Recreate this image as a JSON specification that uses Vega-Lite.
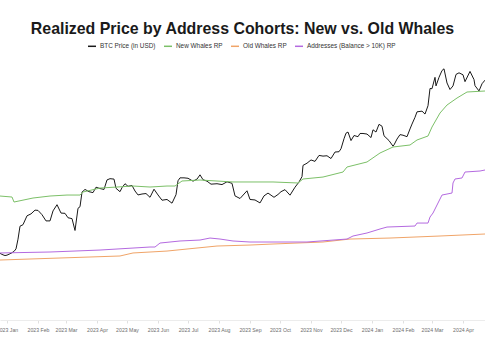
{
  "$schema": "https://vega.github.io/schema/vega-lite/v6.json",
  "width": 485,
  "height": 260,
  "autosize": "none",
  "padding": {"top": 60, "left": 0, "right": 0, "bottom": 40},
  "background": "white",
  "config": {"view": {"stroke": null}},
  "title": {"text": "Realized Price by Address Cohorts: New vs. Old Whales", "anchor": "middle", "fontSize": 15.9, "font": "Liberation Sans", "fontWeight": "bold", "color": "#1a1a1a", "offset": 4},
  "data": {"values": [
      {"d": "2022-12-25", "s": "BTC Price (in USD)", "v": 16840},
      {"d": "2022-12-28", "s": "BTC Price (in USD)", "v": 16640},
      {"d": "2022-12-30", "s": "BTC Price (in USD)", "v": 16550},
      {"d": "2023-01-01", "s": "BTC Price (in USD)", "v": 16600},
      {"d": "2023-01-05", "s": "BTC Price (in USD)", "v": 16850},
      {"d": "2023-01-08", "s": "BTC Price (in USD)", "v": 17100},
      {"d": "2023-01-10", "s": "BTC Price (in USD)", "v": 17450},
      {"d": "2023-01-12", "s": "BTC Price (in USD)", "v": 18850},
      {"d": "2023-01-14", "s": "BTC Price (in USD)", "v": 20900},
      {"d": "2023-01-17", "s": "BTC Price (in USD)", "v": 21150},
      {"d": "2023-01-21", "s": "BTC Price (in USD)", "v": 22700},
      {"d": "2023-01-25", "s": "BTC Price (in USD)", "v": 23050},
      {"d": "2023-01-29", "s": "BTC Price (in USD)", "v": 23750},
      {"d": "2023-02-01", "s": "BTC Price (in USD)", "v": 23700},
      {"d": "2023-02-05", "s": "BTC Price (in USD)", "v": 22900},
      {"d": "2023-02-09", "s": "BTC Price (in USD)", "v": 21800},
      {"d": "2023-02-13", "s": "BTC Price (in USD)", "v": 21800},
      {"d": "2023-02-16", "s": "BTC Price (in USD)", "v": 23600},
      {"d": "2023-02-20", "s": "BTC Price (in USD)", "v": 24800},
      {"d": "2023-02-24", "s": "BTC Price (in USD)", "v": 23200},
      {"d": "2023-02-28", "s": "BTC Price (in USD)", "v": 23150},
      {"d": "2023-03-03", "s": "BTC Price (in USD)", "v": 22350},
      {"d": "2023-03-07", "s": "BTC Price (in USD)", "v": 22200},
      {"d": "2023-03-10", "s": "BTC Price (in USD)", "v": 20200},
      {"d": "2023-03-13", "s": "BTC Price (in USD)", "v": 24100},
      {"d": "2023-03-15", "s": "BTC Price (in USD)", "v": 24400},
      {"d": "2023-03-17", "s": "BTC Price (in USD)", "v": 27400},
      {"d": "2023-03-20", "s": "BTC Price (in USD)", "v": 28000},
      {"d": "2023-03-24", "s": "BTC Price (in USD)", "v": 27500},
      {"d": "2023-03-28", "s": "BTC Price (in USD)", "v": 27300},
      {"d": "2023-03-31", "s": "BTC Price (in USD)", "v": 28500},
      {"d": "2023-04-04", "s": "BTC Price (in USD)", "v": 28200},
      {"d": "2023-04-08", "s": "BTC Price (in USD)", "v": 28000},
      {"d": "2023-04-11", "s": "BTC Price (in USD)", "v": 30200},
      {"d": "2023-04-14", "s": "BTC Price (in USD)", "v": 30500},
      {"d": "2023-04-18", "s": "BTC Price (in USD)", "v": 30400},
      {"d": "2023-04-20", "s": "BTC Price (in USD)", "v": 28250},
      {"d": "2023-04-24", "s": "BTC Price (in USD)", "v": 27500},
      {"d": "2023-04-26", "s": "BTC Price (in USD)", "v": 28400},
      {"d": "2023-04-29", "s": "BTC Price (in USD)", "v": 29300},
      {"d": "2023-05-02", "s": "BTC Price (in USD)", "v": 28700},
      {"d": "2023-05-06", "s": "BTC Price (in USD)", "v": 28900},
      {"d": "2023-05-09", "s": "BTC Price (in USD)", "v": 27650},
      {"d": "2023-05-12", "s": "BTC Price (in USD)", "v": 26800},
      {"d": "2023-05-16", "s": "BTC Price (in USD)", "v": 27000},
      {"d": "2023-05-20", "s": "BTC Price (in USD)", "v": 27100},
      {"d": "2023-05-24", "s": "BTC Price (in USD)", "v": 26300},
      {"d": "2023-05-28", "s": "BTC Price (in USD)", "v": 28050},
      {"d": "2023-06-01", "s": "BTC Price (in USD)", "v": 26800},
      {"d": "2023-06-05", "s": "BTC Price (in USD)", "v": 25700},
      {"d": "2023-06-10", "s": "BTC Price (in USD)", "v": 25850},
      {"d": "2023-06-15", "s": "BTC Price (in USD)", "v": 25100},
      {"d": "2023-06-19", "s": "BTC Price (in USD)", "v": 26850},
      {"d": "2023-06-21", "s": "BTC Price (in USD)", "v": 30000},
      {"d": "2023-06-23", "s": "BTC Price (in USD)", "v": 30700},
      {"d": "2023-06-27", "s": "BTC Price (in USD)", "v": 30700},
      {"d": "2023-07-01", "s": "BTC Price (in USD)", "v": 30600},
      {"d": "2023-07-06", "s": "BTC Price (in USD)", "v": 29900},
      {"d": "2023-07-10", "s": "BTC Price (in USD)", "v": 30400},
      {"d": "2023-07-13", "s": "BTC Price (in USD)", "v": 31450},
      {"d": "2023-07-16", "s": "BTC Price (in USD)", "v": 30250},
      {"d": "2023-07-20", "s": "BTC Price (in USD)", "v": 29900},
      {"d": "2023-07-24", "s": "BTC Price (in USD)", "v": 29200},
      {"d": "2023-07-30", "s": "BTC Price (in USD)", "v": 29300},
      {"d": "2023-08-04", "s": "BTC Price (in USD)", "v": 29100},
      {"d": "2023-08-09", "s": "BTC Price (in USD)", "v": 29750},
      {"d": "2023-08-14", "s": "BTC Price (in USD)", "v": 29400},
      {"d": "2023-08-17", "s": "BTC Price (in USD)", "v": 26600},
      {"d": "2023-08-22", "s": "BTC Price (in USD)", "v": 26050},
      {"d": "2023-08-29", "s": "BTC Price (in USD)", "v": 27700},
      {"d": "2023-09-01", "s": "BTC Price (in USD)", "v": 25850},
      {"d": "2023-09-06", "s": "BTC Price (in USD)", "v": 25750},
      {"d": "2023-09-11", "s": "BTC Price (in USD)", "v": 25150},
      {"d": "2023-09-15", "s": "BTC Price (in USD)", "v": 26600},
      {"d": "2023-09-19", "s": "BTC Price (in USD)", "v": 27200},
      {"d": "2023-09-25", "s": "BTC Price (in USD)", "v": 26300},
      {"d": "2023-09-29", "s": "BTC Price (in USD)", "v": 26900},
      {"d": "2023-10-02", "s": "BTC Price (in USD)", "v": 27500},
      {"d": "2023-10-06", "s": "BTC Price (in USD)", "v": 27950},
      {"d": "2023-10-11", "s": "BTC Price (in USD)", "v": 26750},
      {"d": "2023-10-16", "s": "BTC Price (in USD)", "v": 28500},
      {"d": "2023-10-20", "s": "BTC Price (in USD)", "v": 29700},
      {"d": "2023-10-23", "s": "BTC Price (in USD)", "v": 31000},
      {"d": "2023-10-24", "s": "BTC Price (in USD)", "v": 33900},
      {"d": "2023-10-28", "s": "BTC Price (in USD)", "v": 34500},
      {"d": "2023-11-01", "s": "BTC Price (in USD)", "v": 35400},
      {"d": "2023-11-05", "s": "BTC Price (in USD)", "v": 35000},
      {"d": "2023-11-09", "s": "BTC Price (in USD)", "v": 36700},
      {"d": "2023-11-13", "s": "BTC Price (in USD)", "v": 36500},
      {"d": "2023-11-17", "s": "BTC Price (in USD)", "v": 36600},
      {"d": "2023-11-21", "s": "BTC Price (in USD)", "v": 35800},
      {"d": "2023-11-25", "s": "BTC Price (in USD)", "v": 37700},
      {"d": "2023-11-29", "s": "BTC Price (in USD)", "v": 37800},
      {"d": "2023-12-01", "s": "BTC Price (in USD)", "v": 38700},
      {"d": "2023-12-04", "s": "BTC Price (in USD)", "v": 41900},
      {"d": "2023-12-06", "s": "BTC Price (in USD)", "v": 43800},
      {"d": "2023-12-08", "s": "BTC Price (in USD)", "v": 44200},
      {"d": "2023-12-11", "s": "BTC Price (in USD)", "v": 41300},
      {"d": "2023-12-14", "s": "BTC Price (in USD)", "v": 43000},
      {"d": "2023-12-18", "s": "BTC Price (in USD)", "v": 42600},
      {"d": "2023-12-20", "s": "BTC Price (in USD)", "v": 43700},
      {"d": "2023-12-23", "s": "BTC Price (in USD)", "v": 43700},
      {"d": "2023-12-27", "s": "BTC Price (in USD)", "v": 43500},
      {"d": "2023-12-31", "s": "BTC Price (in USD)", "v": 42300},
      {"d": "2024-01-02", "s": "BTC Price (in USD)", "v": 45000},
      {"d": "2024-01-05", "s": "BTC Price (in USD)", "v": 44200},
      {"d": "2024-01-08", "s": "BTC Price (in USD)", "v": 47000},
      {"d": "2024-01-11", "s": "BTC Price (in USD)", "v": 46300},
      {"d": "2024-01-13", "s": "BTC Price (in USD)", "v": 42900},
      {"d": "2024-01-18", "s": "BTC Price (in USD)", "v": 41300},
      {"d": "2024-01-22", "s": "BTC Price (in USD)", "v": 39500},
      {"d": "2024-01-23", "s": "BTC Price (in USD)", "v": 39900},
      {"d": "2024-01-26", "s": "BTC Price (in USD)", "v": 41800},
      {"d": "2024-01-29", "s": "BTC Price (in USD)", "v": 43300},
      {"d": "2024-02-01", "s": "BTC Price (in USD)", "v": 43100},
      {"d": "2024-02-05", "s": "BTC Price (in USD)", "v": 42600},
      {"d": "2024-02-08", "s": "BTC Price (in USD)", "v": 45300},
      {"d": "2024-02-10", "s": "BTC Price (in USD)", "v": 47100},
      {"d": "2024-02-13", "s": "BTC Price (in USD)", "v": 49700},
      {"d": "2024-02-15", "s": "BTC Price (in USD)", "v": 51900},
      {"d": "2024-02-20", "s": "BTC Price (in USD)", "v": 52200},
      {"d": "2024-02-23", "s": "BTC Price (in USD)", "v": 51000},
      {"d": "2024-02-26", "s": "BTC Price (in USD)", "v": 54500},
      {"d": "2024-02-28", "s": "BTC Price (in USD)", "v": 62500},
      {"d": "2024-03-01", "s": "BTC Price (in USD)", "v": 62400},
      {"d": "2024-03-04", "s": "BTC Price (in USD)", "v": 68300},
      {"d": "2024-03-05", "s": "BTC Price (in USD)", "v": 63800},
      {"d": "2024-03-08", "s": "BTC Price (in USD)", "v": 68300},
      {"d": "2024-03-11", "s": "BTC Price (in USD)", "v": 72100},
      {"d": "2024-03-13", "s": "BTC Price (in USD)", "v": 73100},
      {"d": "2024-03-16", "s": "BTC Price (in USD)", "v": 65300},
      {"d": "2024-03-19", "s": "BTC Price (in USD)", "v": 62000},
      {"d": "2024-03-22", "s": "BTC Price (in USD)", "v": 63800},
      {"d": "2024-03-25", "s": "BTC Price (in USD)", "v": 69900},
      {"d": "2024-03-28", "s": "BTC Price (in USD)", "v": 70800},
      {"d": "2024-04-01", "s": "BTC Price (in USD)", "v": 69700},
      {"d": "2024-04-03", "s": "BTC Price (in USD)", "v": 66000},
      {"d": "2024-04-08", "s": "BTC Price (in USD)", "v": 71600},
      {"d": "2024-04-12", "s": "BTC Price (in USD)", "v": 67100},
      {"d": "2024-04-13", "s": "BTC Price (in USD)", "v": 63900},
      {"d": "2024-04-17", "s": "BTC Price (in USD)", "v": 61300},
      {"d": "2024-04-20", "s": "BTC Price (in USD)", "v": 64900},
      {"d": "2024-04-23", "s": "BTC Price (in USD)", "v": 66800},
      {"d": "2022-12-25", "s": "New Whales RP", "v": 26570},
      {"d": "2023-01-06", "s": "New Whales RP", "v": 26360},
      {"d": "2023-01-08", "s": "New Whales RP", "v": 25330},
      {"d": "2023-01-27", "s": "New Whales RP", "v": 26150},
      {"d": "2023-02-13", "s": "New Whales RP", "v": 26570},
      {"d": "2023-03-02", "s": "New Whales RP", "v": 26780},
      {"d": "2023-03-15", "s": "New Whales RP", "v": 26780},
      {"d": "2023-03-18", "s": "New Whales RP", "v": 27430},
      {"d": "2023-04-04", "s": "New Whales RP", "v": 28310},
      {"d": "2023-04-21", "s": "New Whales RP", "v": 28540},
      {"d": "2023-05-07", "s": "New Whales RP", "v": 28770},
      {"d": "2023-05-24", "s": "New Whales RP", "v": 28540},
      {"d": "2023-06-10", "s": "New Whales RP", "v": 28770},
      {"d": "2023-06-18", "s": "New Whales RP", "v": 28770},
      {"d": "2023-06-25", "s": "New Whales RP", "v": 29940},
      {"d": "2023-07-13", "s": "New Whales RP", "v": 30180},
      {"d": "2023-08-15", "s": "New Whales RP", "v": 29710},
      {"d": "2023-09-24", "s": "New Whales RP", "v": 29710},
      {"d": "2023-10-19", "s": "New Whales RP", "v": 29470},
      {"d": "2023-10-24", "s": "New Whales RP", "v": 30420},
      {"d": "2023-11-13", "s": "New Whales RP", "v": 30900},
      {"d": "2023-12-03", "s": "New Whales RP", "v": 32160},
      {"d": "2023-12-07", "s": "New Whales RP", "v": 33470},
      {"d": "2023-12-27", "s": "New Whales RP", "v": 34830},
      {"d": "2024-01-09", "s": "New Whales RP", "v": 37410},
      {"d": "2024-01-22", "s": "New Whales RP", "v": 39240},
      {"d": "2024-02-08", "s": "New Whales RP", "v": 39870},
      {"d": "2024-02-15", "s": "New Whales RP", "v": 41490},
      {"d": "2024-02-26", "s": "New Whales RP", "v": 42830},
      {"d": "2024-03-01", "s": "New Whales RP", "v": 46000},
      {"d": "2024-03-09", "s": "New Whales RP", "v": 51420},
      {"d": "2024-03-16", "s": "New Whales RP", "v": 54800},
      {"d": "2024-03-26", "s": "New Whales RP", "v": 57940},
      {"d": "2024-04-05", "s": "New Whales RP", "v": 60780},
      {"d": "2024-04-23", "s": "New Whales RP", "v": 61260},
      {"d": "2022-12-25", "s": "Old Whales RP", "v": 15970},
      {"d": "2023-04-24", "s": "Old Whales RP", "v": 16490},
      {"d": "2023-05-07", "s": "Old Whales RP", "v": 16890},
      {"d": "2023-06-10", "s": "Old Whales RP", "v": 17150},
      {"d": "2023-06-30", "s": "Old Whales RP", "v": 17430},
      {"d": "2023-07-30", "s": "Old Whales RP", "v": 17850},
      {"d": "2023-09-01", "s": "Old Whales RP", "v": 17990},
      {"d": "2023-09-24", "s": "Old Whales RP", "v": 18140},
      {"d": "2023-11-13", "s": "Old Whales RP", "v": 18430},
      {"d": "2023-12-10", "s": "Old Whales RP", "v": 18870},
      {"d": "2024-01-19", "s": "Old Whales RP", "v": 19020},
      {"d": "2024-03-09", "s": "Old Whales RP", "v": 19330},
      {"d": "2024-04-23", "s": "Old Whales RP", "v": 19640},
      {"d": "2022-12-25", "s": "Addresses (Balance > 10K) RP", "v": 16890},
      {"d": "2023-02-13", "s": "Addresses (Balance > 10K) RP", "v": 17020},
      {"d": "2023-04-04", "s": "Addresses (Balance > 10K) RP", "v": 17290},
      {"d": "2023-05-24", "s": "Addresses (Balance > 10K) RP", "v": 17710},
      {"d": "2023-05-29", "s": "Addresses (Balance > 10K) RP", "v": 17710},
      {"d": "2023-06-03", "s": "Addresses (Balance > 10K) RP", "v": 18280},
      {"d": "2023-06-23", "s": "Addresses (Balance > 10K) RP", "v": 18580},
      {"d": "2023-07-13", "s": "Addresses (Balance > 10K) RP", "v": 18720},
      {"d": "2023-07-23", "s": "Addresses (Balance > 10K) RP", "v": 19020},
      {"d": "2023-08-02", "s": "Addresses (Balance > 10K) RP", "v": 18870},
      {"d": "2023-08-15", "s": "Addresses (Balance > 10K) RP", "v": 18580},
      {"d": "2023-09-01", "s": "Addresses (Balance > 10K) RP", "v": 18430},
      {"d": "2023-10-28", "s": "Addresses (Balance > 10K) RP", "v": 18430},
      {"d": "2023-12-07", "s": "Addresses (Balance > 10K) RP", "v": 18870},
      {"d": "2023-12-13", "s": "Addresses (Balance > 10K) RP", "v": 19330},
      {"d": "2023-12-27", "s": "Addresses (Balance > 10K) RP", "v": 19800},
      {"d": "2024-01-09", "s": "Addresses (Balance > 10K) RP", "v": 20440},
      {"d": "2024-01-16", "s": "Addresses (Balance > 10K) RP", "v": 20760},
      {"d": "2024-02-13", "s": "Addresses (Balance > 10K) RP", "v": 20930},
      {"d": "2024-02-15", "s": "Addresses (Balance > 10K) RP", "v": 21430},
      {"d": "2024-02-26", "s": "Addresses (Balance > 10K) RP", "v": 21430},
      {"d": "2024-02-28", "s": "Addresses (Balance > 10K) RP", "v": 22480},
      {"d": "2024-03-02", "s": "Addresses (Balance > 10K) RP", "v": 23210},
      {"d": "2024-03-07", "s": "Addresses (Balance > 10K) RP", "v": 25130},
      {"d": "2024-03-11", "s": "Addresses (Balance > 10K) RP", "v": 26780},
      {"d": "2024-03-21", "s": "Addresses (Balance > 10K) RP", "v": 27210},
      {"d": "2024-03-22", "s": "Addresses (Balance > 10K) RP", "v": 29470},
      {"d": "2024-03-24", "s": "Addresses (Balance > 10K) RP", "v": 30420},
      {"d": "2024-03-31", "s": "Addresses (Balance > 10K) RP", "v": 30670},
      {"d": "2024-04-03", "s": "Addresses (Balance > 10K) RP", "v": 32160},
      {"d": "2024-04-18", "s": "Addresses (Balance > 10K) RP", "v": 32420},
      {"d": "2024-04-23", "s": "Addresses (Balance > 10K) RP", "v": 32680}
  ]},
  "mark": {"type": "line", "strokeWidth": 1, "clip": true},
  "encoding": {
    "x": {
      "field": "d", "type": "temporal",
      "scale": {"domain": [{"year": 2022, "month": 12, "date": 25}, {"year": 2024, "month": 4, "date": 23}], "nice": false},
      "axis": {"title": null, "format": "%Y %b", "values": [
        {"year": 2023, "month": 1, "date": 1}, {"year": 2023, "month": 2, "date": 1}, {"year": 2023, "month": 3, "date": 1},
        {"year": 2023, "month": 4, "date": 1}, {"year": 2023, "month": 5, "date": 1}, {"year": 2023, "month": 6, "date": 1},
        {"year": 2023, "month": 7, "date": 1}, {"year": 2023, "month": 8, "date": 1}, {"year": 2023, "month": 9, "date": 1},
        {"year": 2023, "month": 10, "date": 1}, {"year": 2023, "month": 11, "date": 1}, {"year": 2023, "month": 12, "date": 1},
        {"year": 2024, "month": 1, "date": 1}, {"year": 2024, "month": 2, "date": 1}, {"year": 2024, "month": 3, "date": 1},
        {"year": 2024, "month": 4, "date": 1}, {"year": 2024, "month": 5, "date": 1}],
        "labelFontSize": 5.2, "labelColor": "#6e6e6e", "labelFont": "Liberation Sans", "tickColor": "#e0e0e0", "tickSize": 3, "domainColor": "#ececec", "grid": false, "labelPadding": 4, "labelFlush": false, "labelOverlap": false}
    },
    "y": {
      "field": "v", "type": "quantitative",
      "scale": {"type": "log", "domain": [9910, 78400], "nice": false},
      "axis": null
    },
    "color": {
      "field": "s", "type": "nominal",
      "scale": {"domain": ["BTC Price (in USD)", "New Whales RP", "Old Whales RP", "Addresses (Balance > 10K) RP"], "range": ["#1a1a1a", "#7cc068", "#f0a468", "#b46ae0"]},
      "legend": {"title": null, "orient": "none", "legendX": 87, "legendY": -19, "direction": "horizontal", "symbolType": "stroke", "symbolSize": 64, "symbolStrokeWidth": 1.5, "labelFontSize": 6.4, "labelColor": "#333333", "labelFont": "Liberation Sans", "columnPadding": 5, "labelOffset": 3}
    }
  }
}
